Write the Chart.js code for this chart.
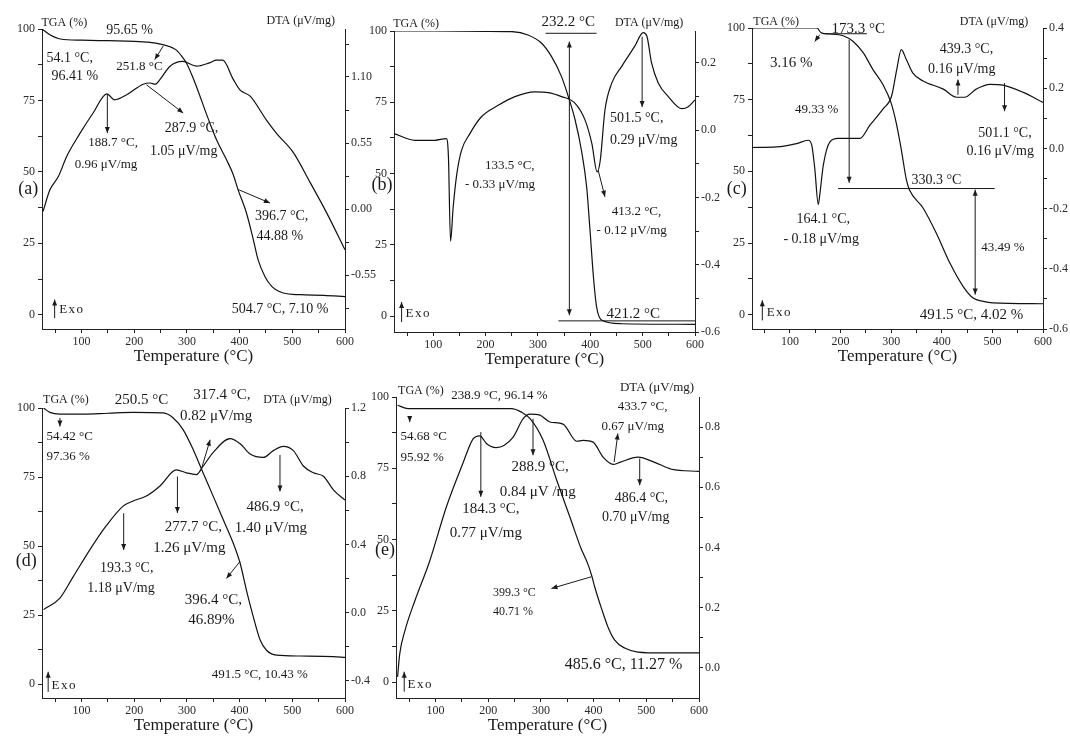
<!DOCTYPE html>
<html>
<head>
<meta charset="utf-8">
<script src="https://cdn.jsdelivr.net/npm/chart.js@4.4.0/dist/chart.umd.min.js"></script>
<style>
body { margin: 0; background: #fff; width: 1070px; height: 737px; overflow: hidden; position: relative; }
canvas { position: absolute; }
</style>
</head>
<body>
<script>
// shared axis ticks
const xTicks = [50, 100, 150, 200, 250, 300, 350, 400, 450, 500, 550, 600];
const xLabels = ['', '100', '', '200', '', '300', '', '400', '', '500', '', '600'];
const tgaTicks = [0, 12.5, 25, 37.5, 50, 62.5, 75, 87.5, 100];
const tgaLabels = ['0', '', '25', '', '50', '', '75', '', '100'];

// (a)
const tgaA_T = [25, 40, 60, 100, 150, 200, 230, 250, 268, 280, 290, 299, 308, 318, 340, 356, 375, 388, 397, 413, 426, 435, 448, 461, 483, 515, 560, 600];
const tgaA_V = [100, 98.0, 96.5, 96.1, 95.9, 95.7, 95.3, 94.7, 93.8, 92.6, 90.5, 88.1, 84.5, 79.9, 68.8, 61.3, 54.3, 49.0, 43.8, 35.6, 26.3, 19.3, 13.4, 9.9, 7.6, 7.0, 6.8, 6.3];
const dtaA_T = [27, 40, 56, 72, 97, 122, 148, 163, 185, 217, 230, 240, 249, 268, 292, 318, 344, 356, 368, 388, 401, 420, 451, 470, 502, 534, 565, 600];
const dtaA_V = [-0.02, 0.16, 0.27, 0.44, 0.63, 0.80, 0.96, 0.91, 0.95, 1.04, 1.05, 1.04, 1.08, 1.19, 1.23, 1.19, 1.22, 1.24, 1.24, 1.08, 0.99, 0.94, 0.74, 0.63, 0.47, 0.22, -0.03, -0.34];
const dtaA_ticks = [-0.825, -0.55, -0.275, 0, 0.275, 0.55, 0.825, 1.1, 1.375];
const dtaA_labels = ['', '-0.55', '', '0.00', '', '0.55', '', '1.10', ''];

// (b)
const tgaB_T = [25, 100, 200, 250, 281, 307, 326, 345, 358, 371, 383, 393, 399, 406, 412, 422, 460, 600];
const tgaB_V = [100, 100, 99.9, 99.8, 98.6, 95.7, 91, 84, 77, 68.8, 58.2, 45.4, 31.3, 13.8, 3.3, -1.4, -2.6, -2.8];
const dtaB_T = [25, 65, 103, 125, 129, 133, 138, 145, 154, 170, 192, 224, 256, 294, 320, 345, 371, 390, 403, 413, 419, 428, 441, 460, 485, 501, 508, 517, 530, 549, 575, 587, 600];
const dtaB_V = [-0.01, -0.03, -0.03, -0.025, -0.08, -0.33, -0.23, -0.13, -0.06, -0.01, 0.04, 0.074, 0.10, 0.114, 0.112, 0.10, 0.08, 0.03, -0.04, -0.124, -0.09, 0.06, 0.14, 0.19, 0.25, 0.29, 0.28, 0.2, 0.14, 0.10, 0.064, 0.07, 0.09];
const dtaB_ticks = [-0.6, -0.5, -0.4, -0.3, -0.2, -0.1, 0, 0.1, 0.2];
const dtaB_labels = ['-0.6', '', '-0.4', '', '-0.2', '', '0.0', '', '0.2'];

// (c)
const tgaC_T = [25, 153, 162, 179, 205, 225, 245, 264, 284, 300, 310, 320, 330, 336, 363, 389, 416, 442, 462, 482, 501, 600];
const tgaC_V = [100, 100, 98.3, 97.9, 97.3, 95.3, 91.3, 85.5, 80.2, 73.8, 66.9, 57.6, 47.1, 43.6, 37.2, 28.5, 18, 9.9, 5.8, 4.65, 4.1, 3.8];
const dtaC_T = [25, 74, 113, 136, 143, 149, 156, 159, 166, 179, 195, 238, 258, 284, 301, 311, 320, 330, 343, 363, 403, 429, 445, 468, 495, 521, 561, 600];
const dtaC_V = [0.003, 0.005, 0.016, 0.027, 0.011, -0.066, -0.186, -0.153, -0.055, 0.022, 0.033, 0.033, 0.077, 0.131, 0.175, 0.262, 0.328, 0.295, 0.25, 0.224, 0.197, 0.17, 0.17, 0.197, 0.213, 0.21, 0.186, 0.153];
const dtaC_ticks = [-0.6, -0.5, -0.4, -0.3, -0.2, -0.1, 0, 0.1, 0.2, 0.3, 0.4];
const dtaC_labels = ['-0.6', '', '-0.4', '', '-0.2', '', '0.0', '', '0.2', '', '0.4'];

// (d)
const tgaD_T = [28, 40, 59, 103, 150, 198, 255, 274, 293, 312, 331, 350, 369, 388, 401, 413, 426, 439, 451, 470, 515, 578, 600];
const tgaD_V = [100, 98.4, 97.8, 97.8, 98.1, 98.4, 98.2, 96.4, 92.1, 84.9, 76.4, 68, 59.5, 51, 43.8, 34, 24.4, 16, 12.3, 10.5, 10.2, 10, 9.7];
const dtaD_T = [28, 59, 84, 116, 147, 179, 198, 223, 249, 280, 299, 318, 331, 350, 382, 401, 420, 445, 464, 483, 502, 521, 540, 559, 578, 600];
const dtaD_V = [0.018, 0.086, 0.21, 0.37, 0.51, 0.625, 0.655, 0.684, 0.743, 0.837, 0.82, 0.81, 0.86, 0.94, 1.02, 0.99, 0.93, 0.91, 0.95, 0.975, 0.95, 0.86, 0.82, 0.80, 0.72, 0.66];
const dtaD_ticks = [-0.4, -0.2, 0, 0.2, 0.4, 0.6, 0.8, 1.0, 1.2];
const dtaD_labels = ['-0.4', '', '0.0', '', '0.4', '', '0.8', '', '1.2'];

// (e)
const tgaE_T = [28, 48, 111, 244, 263, 279, 304, 330, 356, 376, 389, 397, 402, 416, 427, 440, 459, 484, 530, 600];
const tgaE_V = [97.1, 95.9, 95.9, 95.9, 94.7, 92.5, 84.9, 70.8, 57.4, 47.0, 41.5, 37, 33.5, 25.3, 19.5, 14.8, 12, 10.6, 10.3, 10.3];
const dtaE_T = [28, 32, 42, 61, 88, 121, 152, 171, 184, 197, 215, 247, 266, 279, 298, 317, 342, 368, 380, 399, 418, 437, 450, 484, 516, 548, 600];
const dtaE_V = [-0.03, 0.046, 0.124, 0.224, 0.35, 0.537, 0.68, 0.76, 0.771, 0.745, 0.732, 0.766, 0.827, 0.843, 0.84, 0.817, 0.81, 0.753, 0.756, 0.75, 0.70, 0.676, 0.683, 0.70, 0.683, 0.66, 0.653];
const dtaE_ticks = [0, 0.1, 0.2, 0.3, 0.4, 0.5, 0.6, 0.7, 0.8];
const dtaE_labels = ['0.0', '', '0.2', '', '0.4', '', '0.6', '', '0.8'];

// annotations: [text, T, TGA, size] or [T1, TGA1, T2, TGA2, heads]
const notesA = [
  ['TGA (%)', 24, 102.2, 12], ['DTA (μV/mg)', 451, 102.8, 12], ['95.65 %', 147, 99.5, 14],
  ['54.1 °C,', 33.5, 89.8, 14], ['96.41 %', 43, 83.4, 14], ['251.8 °C', 166, 86.9, 13],
  ['287.9 °C,', 258, 65.3, 14], ['1.05 μV/mg', 230, 57.2, 14], ['188.7 °C,', 113, 60.1, 13],
  ['0.96 μV/mg', 87, 52.5, 13], ['(a)', -20, 43.8, 18], ['396.7 °C,', 429, 34.4, 14],
  ['44.88 %', 432, 27.4, 14], ['504.7 °C, 7.10 %', 385, 1.75, 14], ['Exo', 57.6, 1.75, 13],
  [255, 94, 239, 89.3, 1], [223, 80.5, 293, 70.6, 1], [149, 77, 149, 63.6, 1],
  [397.5, 43.8, 457.6, 39.1, 1], [49, -1.2, 49, 5.3, 1]
];
const notesB = [
  ['TGA (%)', 23.6, 102.5, 12], ['232.2 °C', 307, 103.3, 15], ['DTA (μV/mg)', 447, 103, 12],
  ['501.5 °C,', 437.6, 69.4, 14], ['0.29 μV/mg', 437.6, 61.8, 14], ['133.5 °C,', 198.7, 53, 13],
  ['- 0.33 μV/mg', 160.5, 46, 13], ['(b)', -18, 46, 18], ['413.2 °C,', 440.8, 36.6, 13],
  ['- 0.12 μV/mg', 412, 30.2, 13], ['421.2 °C', 431, 0.9, 15], ['Exo', 47, 0.9, 13],
  [314.6, 99.2, 412, 99.2, 0], [360, 96.3, 360, 0.35, 2], [499, 98, 499, 73.4, 1],
  [415, 51.2, 428, 41.9, 1], [339, -1.6, 600, -1.6, 0], [39.5, -2, 39.5, 5, 1]
];
const notesC = [
  ['TGA (%)', 27.6, 102.3, 12], ['173.3 °C', 182, 99.7, 15], ['DTA (μV/mg)', 435.5, 102.3, 12],
  ['3.16 %', 60.5, 87.8, 15], ['49.33 %', 110, 71.5, 13], ['439.3 °C,', 396, 92.4, 14],
  ['0.16 μV/mg', 373, 85.5, 14], ['501.1 °C,', 472, 63.4, 14], ['0.16 μV/mg', 449, 57, 14],
  ['330.3 °C', 340, 47, 14], ['43.49 %', 478, 23.3, 13], ['(c)', -25, 43.6, 18],
  ['164.1 °C,', 113, 33.1, 14], ['- 0.18 μV/mg', 87, 26.2, 14], ['491.5 °C, 4.02 %', 356.6, 0, 15],
  ['Exo', 54, 0.6, 13],
  [170, 98.0, 252, 98.0, 0], [159, 97.7, 149, 95.3, 1], [217, 96, 217, 46, 1],
  [432, 76.7, 432, 82, 1], [524, 80.8, 524, 71, 1], [195, 44, 504.6, 44, 0],
  [466, 43.6, 466, 7, 2], [45.4, -2, 45.4, 5, 1]
];
const notesD = [
  ['TGA (%)', 27, 102.8, 12], ['250.5 °C', 163, 102.8, 15], ['317.4 °C,', 312, 104.8, 15],
  ['DTA (μV/mg)', 445, 102.8, 12], ['0.82 μV/mg', 287, 97, 15], ['54.42 °C', 33.5, 89.7, 13],
  ['97.36 %', 33.5, 82.5, 13], ['277.7 °C,', 258, 57, 15], ['1.26 μV/mg', 236, 49.2, 15],
  ['486.9 °C,', 413, 64.3, 15], ['1.40 μV/mg', 391, 56.5, 15], ['193.3 °C,', 135, 42, 14],
  ['1.18 μV/mg', 111, 34.7, 14], ['(d)', -25, 44.4, 18], ['396.4 °C,', 296, 30.5, 15],
  ['46.89%', 302.5, 23.2, 15], ['491.5 °C, 10.43 %', 347, 3.3, 13], ['Exo', 43, -0.4, 13],
  [328, 78.2, 344, 88.5, 1], [59, 96.4, 59, 93.3, 1], [282, 75.2, 282, 62, 1],
  [476.6, 83, 476.6, 69.8, 1], [180, 61.9, 180, 48.6, 1], [400.6, 44.4, 375, 38.3, 1],
  [36.7, -2.8, 36.7, 4.5, 1]
];
const notesE = [
  ['TGA (%)', 29, 102.1, 12], ['238.9 °C, 96.14 %', 130, 100.6, 13], ['DTA (μV/mg)', 450, 103.3, 13],
  ['433.7 °C,', 446, 96.5, 13], ['0.67 μV/mg', 415, 89.5, 13], ['54.68 °C', 33.6, 86, 13],
  ['95.92 %', 33.6, 78.8, 13], ['288.9 °C,', 244, 75.3, 15], ['0.84 μV /mg', 222, 66.7, 15],
  ['184.3 °C,', 150.6, 60.6, 15], ['0.77 μV/mg', 127, 52.2, 15], ['486.4 °C,', 440, 64.4, 14],
  ['0.70 μV/mg', 416, 58, 14], ['(e)', -15, 46.3, 18], ['399.3 °C', 209, 31.2, 12],
  ['40.71 %', 209, 24.7, 12], ['485.6 °C, 11.27 %', 345, 6.1, 16], ['Exo', 47, -0.9, 13],
  [439, 77.2, 446, 87.2, 1], [51, 93, 51, 91.2, 1], [285, 92.4, 285, 79.6, 1],
  [186, 87.7, 186, 65, 1], [487.5, 78.4, 487.5, 69.1, 1], [396, 37, 320, 32.9, 1],
  [40.6, -3.3, 40.6, 3.7, 1]
];

const panels = [
  { box: [42, 29, 345, 329], tgaMin: -5, dtaMin: -1, dtaMax: 1.5, dtaTicks: dtaA_ticks, dtaLabels: dtaA_labels, tgaT: tgaA_T, tgaV: tgaA_V, dtaT: dtaA_T, dtaV: dtaA_V, notes: notesA },
  { box: [394, 31, 695, 332], tgaMin: -5.5, dtaMin: -0.6, dtaMax: 0.295, dtaTicks: dtaB_ticks, dtaLabels: dtaB_labels, tgaT: tgaB_T, tgaV: tgaB_V, dtaT: dtaB_T, dtaV: dtaB_V, notes: notesB },
  { box: [752, 28, 1043, 329], tgaMin: -5, dtaMin: -0.6, dtaMax: 0.4, dtaTicks: dtaC_ticks, dtaLabels: dtaC_labels, tgaT: tgaC_T, tgaV: tgaC_V, dtaT: dtaC_T, dtaV: dtaC_V, notes: notesC },
  { box: [42, 408, 345, 698], tgaMin: -5, dtaMin: -0.5, dtaMax: 1.2, dtaTicks: dtaD_ticks, dtaLabels: dtaD_labels, tgaT: tgaD_T, tgaV: tgaD_V, dtaT: dtaD_T, dtaV: dtaD_V, notes: notesD },
  { box: [396, 397, 699, 698], tgaMin: -5.5, dtaMin: -0.1, dtaMax: 0.9, dtaTicks: dtaE_ticks, dtaLabels: dtaE_labels, tgaT: tgaE_T, tgaV: tgaE_V, dtaT: dtaE_T, dtaV: dtaE_V, notes: notesE }
];

const FONT = '"Liberation Serif", "Times New Roman", serif';
const INK = '#1a1a1a';

function arrowHead(ctx, x1, y1, x2, y2) {
  const a = Math.atan2(y2 - y1, x2 - x1), L = 6, W = 2.5;
  ctx.beginPath();
  ctx.moveTo(x2, y2);
  ctx.lineTo(x2 - L * Math.cos(a) + W * Math.sin(a), y2 - L * Math.sin(a) - W * Math.cos(a));
  ctx.lineTo(x2 - L * Math.cos(a) - W * Math.sin(a), y2 - L * Math.sin(a) + W * Math.cos(a));
  ctx.closePath();
  ctx.fill();
}

function drawNotes(chart, notes) {
  const ctx = chart.ctx, x = chart.scales.x, y = chart.scales.y;
  ctx.save();
  ctx.fillStyle = INK;
  ctx.strokeStyle = INK;
  ctx.lineWidth = 1;
  ctx.textBaseline = 'middle';
  ctx.textAlign = 'left';
  notes.forEach(n => {
    if (typeof n[0] === 'string') {
      ctx.font = n[3] + 'px ' + FONT;
      ctx.letterSpacing = n[0] === 'Exo' ? '1.5px' : '0px';
      ctx.fillText(n[0], x.getPixelForValue(n[1]), y.getPixelForValue(n[2]));
    } else {
      const x1 = x.getPixelForValue(n[0]), y1 = y.getPixelForValue(n[1]);
      const x2 = x.getPixelForValue(n[2]), y2 = y.getPixelForValue(n[3]);
      ctx.beginPath();
      ctx.moveTo(x1, y1);
      ctx.lineTo(x2, y2);
      ctx.stroke();
      if (n[4] >= 1) arrowHead(ctx, x1, y1, x2, y2);
      if (n[4] === 2) arrowHead(ctx, x2, y2, x1, y1);
    }
  });
  ctx.restore();
}

function axisStyle() {
  return {
    grid: { display: true, drawOnChartArea: false, drawTicks: true, tickLength: 4, color: '#222', lineWidth: 1 },
    border: { display: true, color: '#222', width: 1 }
  };
}

function makeChart(p) {
  const LW = 40, RW = 45, TOP = 32, BH = 40;
  const w = p.box[2] - p.box[0] + LW + RW;
  const h = p.box[3] - p.box[1] + TOP + BH;
  const cv = document.createElement('canvas');
  cv.width = w; cv.height = h;
  cv.style.width = w + 'px'; cv.style.height = h + 'px';
  cv.style.left = (p.box[0] - LW) + 'px';
  cv.style.top = (p.box[1] - TOP) + 'px';
  document.body.appendChild(cv);

  const tickFont = { family: FONT, size: 12 };
  new Chart(cv, {
    type: 'line',
    data: {
      datasets: [
        { data: p.tgaT.map((t, i) => ({ x: t, y: p.tgaV[i] })), yAxisID: 'y' },
        { data: p.dtaT.map((t, i) => ({ x: t, y: p.dtaV[i] })), yAxisID: 'y1' }
      ]
    },
    options: {
      responsive: false,
      animation: false,
      devicePixelRatio: 1,
      layout: { padding: { top: TOP, left: 0, right: 0, bottom: 0 } },
      elements: {
        line: { borderColor: '#111', borderWidth: 1.2, cubicInterpolationMode: 'monotone', fill: false },
        point: { radius: 0 }
      },
      plugins: { legend: { display: false }, tooltip: { enabled: false } },
      scales: {
        x: Object.assign(axisStyle(), {
          type: 'linear', min: 25, max: 600,
          afterBuildTicks: s => { s.ticks = xTicks.map(v => ({ value: v })); },
          afterFit: s => { s.height = BH; },
          ticks: { autoSkip: false, maxRotation: 0, padding: 2, color: '#2a2a2a', font: tickFont, callback: (v, i) => xLabels[i] },
          title: { display: true, text: 'Temperature (°C)', color: '#1a1a1a', font: { family: FONT, size: 17 }, padding: { top: 0, bottom: 2 } }
        }),
        y: Object.assign(axisStyle(), {
          type: 'linear', position: 'left', min: p.tgaMin, max: 100,
          afterBuildTicks: s => { s.ticks = tgaTicks.map(v => ({ value: v })); },
          afterFit: s => { s.width = LW; },
          ticks: { autoSkip: false, padding: 3, color: '#2a2a2a', font: tickFont, callback: (v, i) => tgaLabels[i] }
        }),
        y1: Object.assign(axisStyle(), {
          type: 'linear', position: 'right', min: p.dtaMin, max: p.dtaMax,
          afterBuildTicks: s => { s.ticks = p.dtaTicks.map(v => ({ value: v })); },
          afterFit: s => { s.width = RW; },
          ticks: { autoSkip: false, padding: 2, color: '#2a2a2a', font: tickFont, callback: (v, i) => p.dtaLabels[i] }
        })
      }
    },
    plugins: [{ id: 'notes', afterDraw: chart => drawNotes(chart, p.notes) }]
  });
}

panels.forEach(makeChart);
</script>
</body>
</html>
